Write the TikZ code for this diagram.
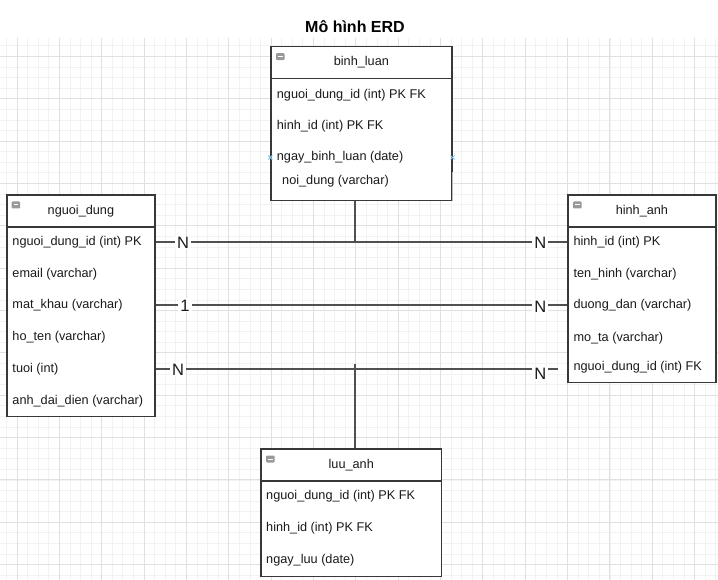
\documentclass[tikz,border=0pt]{standalone}
\usepackage{fontspec}
\setmainfont{Liberation Sans}
\definecolor{gridminor}{HTML}{F2F2F2}
\definecolor{gridmajor}{HTML}{E0E0E0}
\definecolor{edge}{HTML}{383838}
\definecolor{connc}{HTML}{505050}
\definecolor{txt}{HTML}{1A1A1A}
\definecolor{handle}{HTML}{7EC8EE}
\begin{document}
\begin{tikzpicture}[x=1pt,y=-1pt,
  every node/.style={font=\fontsize{12.7}{15}\selectfont, text=txt},
  tbl/.style={draw=edge, line width=1.5pt, fill=white, anchor=north west, inner sep=0pt},
  hdr/.style={draw=edge, line width=1.5pt, anchor=north west, inner sep=0pt, minimum height=32pt, text height=9.2pt, text depth=2.7pt},
  row/.style={anchor=west, inner sep=0pt, text height=9.2pt, text depth=2.7pt},
  icon/.style={anchor=north west, fill=black!40, rounded corners=1pt, inner sep=0pt, minimum width=8.5pt, minimum height=7pt,
    path picture={\draw[white, line width=1pt] ([xshift=2pt]path picture bounding box.west) -- ([xshift=-2pt]path picture bounding box.east);}},
  conn/.style={draw=connc, line width=2pt},
  card/.style={font=\fontsize{16.5}{19}\selectfont, fill=white, inner xsep=2pt, inner ysep=1pt, text height=11.8pt, text depth=0pt},
  hmark/.style={draw=handle, line width=1pt},
  gmin/.style={draw=gridminor, line width=0.8pt},
  gmaj/.style={draw=gridmajor, line width=0.9pt}
]
\useasboundingbox (0,0) rectangle (718,580);
% grid
\begin{scope}
\clip (0,38) rectangle (718,580);
\foreach \i in {-2,...,66} \draw[gmin] ({17+\i*10.5875},38) -- ({17+\i*10.5875},580);
\foreach \i in {-2,...,51} \draw[gmin] (0,{56.4+\i*10.5875}) -- (718,{56.4+\i*10.5875});
\foreach \i in {0,...,16} \draw[gmaj] ({17+\i*42.35},38) -- ({17+\i*42.35},580);
\foreach \i in {0,...,12} \draw[gmaj] (0,{56.4+\i*42.35}) -- (718,{56.4+\i*42.35});
\end{scope}

% title
\node[font=\fontsize{16}{19}\selectfont\bfseries, text=black] (title) at (355,27) {Mô hình ERD};

% binh_luan
\node[tbl, minimum width=180.7pt, minimum height=154pt] (bl) at (270.3,46) {};
\node[hdr, minimum width=180.7pt] (blh) at (bl.north west) {binh\_luan};
\node[icon] (bli) at ([xshift=5.5pt,yshift=-7pt]bl.north west) {};
\node[row] (bl1) at (276.7,95) {nguoi\_dung\_id (int) PK FK};
\node[row] (bl2) at (276.7,126) {hinh\_id (int) PK FK};
\node[row] (bl3) at (276.7,157.5) {ngay\_binh\_luan (date)};
\draw[draw=edge!35, line width=1.3pt] (bl.east |- 0,172) -- (bl.south east);
\node[row] (bl4) at (282,181.5) {noi\_dung (varchar)};
\draw[hmark] (bl.west |- bl3) +(-2,-2) -- +(2,2) +(-2,2) -- +(2,-2);
\draw[hmark] (bl.east |- bl3) +(-2,-2) -- +(2,2) +(-2,2) -- +(2,-2);

% nguoi_dung
\node[tbl, minimum width=148.3pt, minimum height=221.4pt] (nd) at (6,194.3) {};
\node[hdr, minimum width=148.3pt] (ndh) at (nd.north west) {nguoi\_dung};
\node[icon] (ndi) at ([xshift=5.5pt,yshift=-7pt]nd.north west) {};
\node[row] (nd1) at (12.3,242) {nguoi\_dung\_id (int) PK};
\node[row] (nd2) at (12.3,274.3) {email (varchar)};
\node[row] (nd3) at (12.3,305) {mat\_khau (varchar)};
\node[row] (nd4) at (12.3,337.7) {ho\_ten (varchar)};
\node[row] (nd5) at (12.3,369) {tuoi (int)};
\node[row] (nd6) at (12.3,401) {anh\_dai\_dien (varchar)};

% hinh_anh
\node[tbl, minimum width=147.7pt, minimum height=187.4pt] (ha) at (567.3,194.3) {};
\node[hdr, minimum width=147.7pt] (hah) at (ha.north west) {hinh\_anh};
\node[icon] (hai) at ([xshift=5.5pt,yshift=-7pt]ha.north west) {};
\node[row] (ha1) at (573.3,242) {hinh\_id (int) PK};
\node[row] (ha2) at (573.3,274) {ten\_hinh (varchar)};
\node[row] (ha3) at (573.3,305) {duong\_dan (varchar)};
\node[row] (ha4) at (573.3,338) {mo\_ta (varchar)};
\node[row] (ha5) at (573.3,367.7) {nguoi\_dung\_id (int) FK};

% luu_anh
\node[tbl, minimum width=180.4pt, minimum height=127.4pt] (la) at (260.3,448.3) {};
\node[hdr, minimum width=180.4pt] (lah) at (la.north west) {luu\_anh};
\node[icon] (lai) at ([xshift=5.5pt,yshift=-7pt]la.north west) {};
\node[row] (la1) at (266,496.7) {nguoi\_dung\_id (int) PK FK};
\node[row] (la2) at (266,528.3) {hinh\_id (int) PK FK};
\node[row] (la3) at (266,560) {ngay\_luu (date)};

% connectors
\coordinate (j1) at (355,242);
\coordinate (j2) at (355,364);
\coordinate (e3) at (558,369);
\draw[conn] (nd.east |- nd1) -- (ha.west |- ha1);
\draw[conn] (nd.east |- nd3) -- (ha.west |- ha3);
\draw[conn] (nd.east |- nd5) -- (e3);
\draw[conn] (j1 |- bl.south) -- (j1);
\draw[conn] (j2) -- (j2 |- la.north);

% cardinalities
\node[card] (c1) at (183,242.5) {N};
\node[card] (c2) at (540.3,242.5) {N};
\node[card] (c3) at (185,305.3) {1};
\node[card] (c4) at (540.3,306.3) {N};
\node[card] (c5) at (178,369.3) {N};
\node[card] (c6) at (540.3,373.7) {N};
\end{tikzpicture}
\end{document}
